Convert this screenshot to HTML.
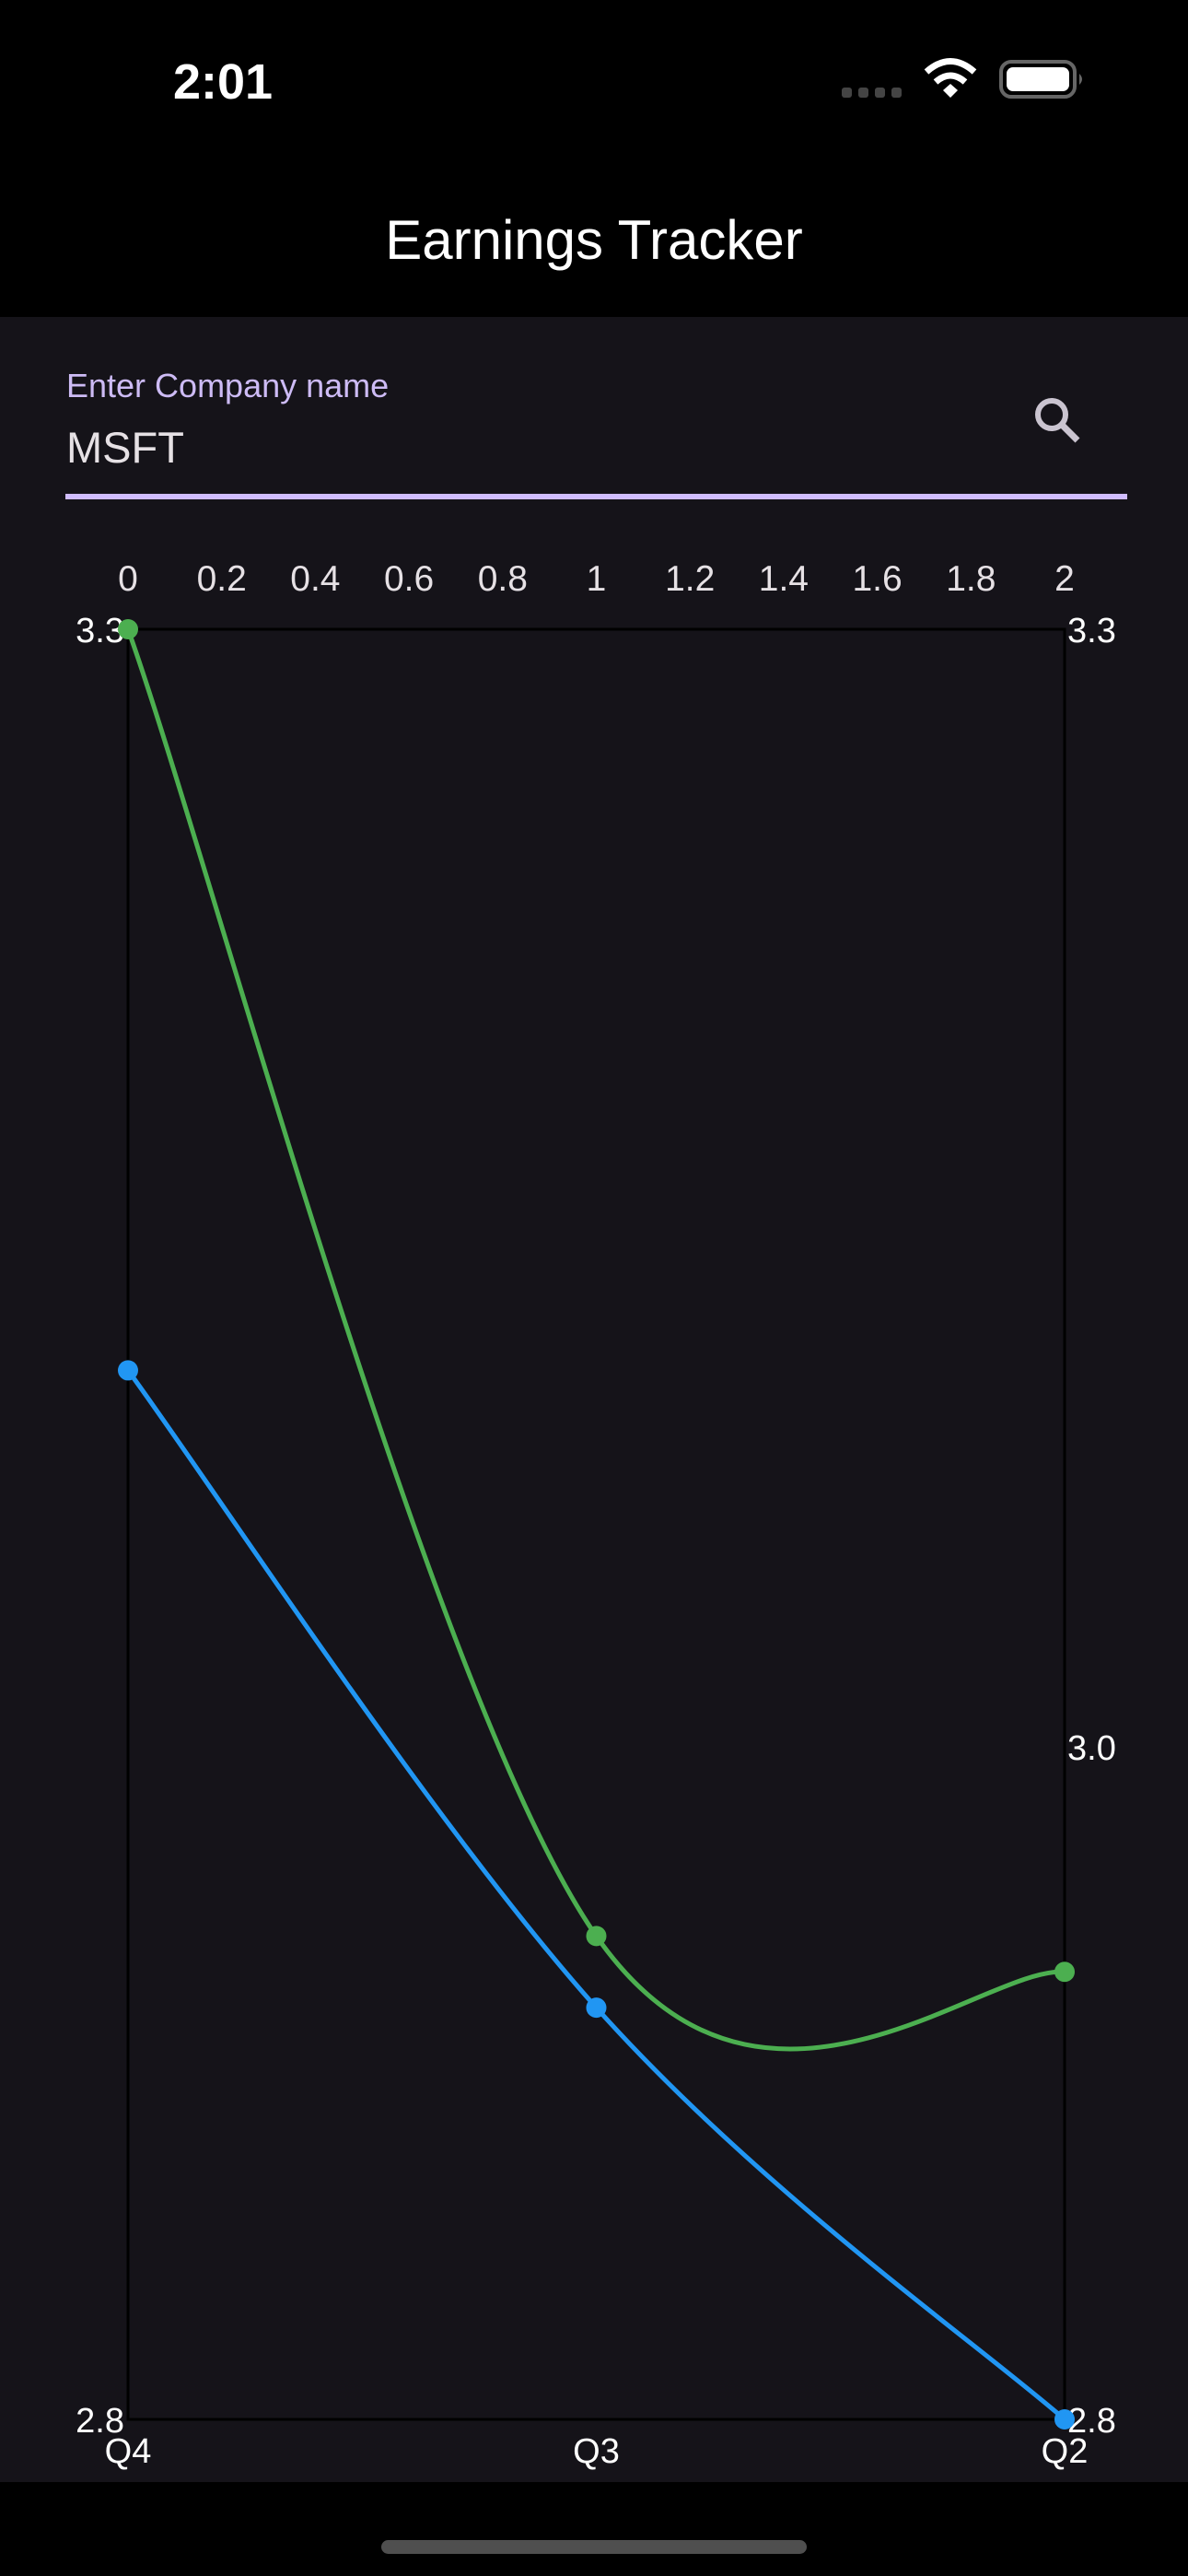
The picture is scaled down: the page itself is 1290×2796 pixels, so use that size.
<!DOCTYPE html>
<html><head><meta charset="utf-8"><style>
html,body{margin:0;padding:0;}
body{width:1290px;height:2796px;background:#000;position:relative;overflow:hidden;font-family:"Liberation Sans",sans-serif;}
.abs{position:absolute;}
</style></head><body>
<div class="abs" style="left:0;top:0;width:1290px;height:344px;background:#000;">
  <div class="abs" style="left:150px;top:58px;width:184px;text-align:center;color:#fff;font-size:54px;font-weight:bold;">2:01</div>
  <svg class="abs" style="left:900px;top:55px;" width="300" height="65">
    <g fill="#444"><rect x="14" y="40" width="11" height="11" rx="3"/><rect x="32" y="40" width="11" height="11" rx="3"/><rect x="50" y="40" width="11" height="11" rx="3"/><rect x="68" y="40" width="11" height="11" rx="3"/></g>
    <g fill="none" stroke="#fff" stroke-width="7"><path d="M106 23 Q132 0 158 23"/><path d="M116 34 Q132 20 148 34"/></g>
    <path d="M124 43 L132 36 L140 43 L132 51Z" fill="#fff"/>
    <rect x="187" y="12" width="80" height="38" rx="11" fill="none" stroke="#666" stroke-width="4"/>
    <rect x="193" y="18" width="68" height="26" rx="7" fill="#fff"/>
    <path d="M272 25 Q278 31 272 37Z" fill="#666"/>
  </svg>
  <div class="abs" style="left:0;top:226px;width:1290px;text-align:center;color:#fff;font-size:60px;">Earnings Tracker</div>
</div>
<div class="abs" style="left:0;top:344px;width:1290px;height:2350px;background:#151319;"></div>
<div class="abs" style="left:72px;top:398px;color:#cdbbf5;font-size:36px;">Enter Company name</div>
<div class="abs" style="left:72px;top:458px;color:#e6e1e5;font-size:47px;">MSFT</div>
<svg class="abs" style="left:1118px;top:426px;" width="66" height="66">
  <circle cx="24" cy="24" r="15" fill="none" stroke="#cac4d0" stroke-width="6"/>
  <line x1="35" y1="35" x2="52" y2="52" stroke="#cac4d0" stroke-width="7"/>
</svg>
<div class="abs" style="left:71px;top:536px;width:1153px;height:6px;background:#d0bcff;"></div>
<svg id="chart" class="abs" style="left:0;top:560px;" width="1290" height="2134"></svg>
<div class="abs" style="left:414px;top:2757px;width:462px;height:15px;border-radius:8px;background:#4f4f4f;"></div>
<script>
const topTicks=[0,0.2,0.4,0.6,0.8,1,1.2,1.4,1.6,1.8,2];
const categories=["Q4","Q3","Q2"];
const leftTicks=[3.3,2.8];
const rightTicks=[3.3,3.0,2.8];
const actualSeries=[3.3,2.935,2.925];
const estimateSeries=[3.093,2.915,2.8];
const yMin=2.8,yMax=3.3,xMax=2;
const OY=560,L=139,R=1156,T=683,B=2626;
const xs=v=>L+(R-L)*v/xMax;
const ys=v=>T+(B-T)*(yMax-v)/(yMax-yMin)-OY;
const svg=document.getElementById('chart');
const NS='http://www.w3.org/2000/svg';
function mk(tag,attrs){const e=document.createElementNS(NS,tag);for(const k in attrs)e.setAttribute(k,attrs[k]);svg.appendChild(e);return e;}
let e=mk('rect',{x:L,y:T-OY,width:R-L,height:B-T,fill:'none',stroke:'#000','stroke-width':3});


topTicks.forEach(t=>{const el=mk('text',{x:xs(t),y:641-OY,'text-anchor':'middle',fill:'#e6e1e5','font-size':39,'font-family':'Liberation Sans'});el.textContent=String(t);

});
leftTicks.forEach(t=>{const el=mk('text',{x:L-4,y:ys(t)+14,'text-anchor':'end',fill:'#fff','font-size':38,'font-family':'Liberation Sans'});el.textContent=t.toFixed(1);

});
rightTicks.forEach(t=>{let y=ys(t)+14;if(t===3.0)y+=47;const el=mk('text',{x:R+3,y:y,fill:'#fff','font-size':38,'font-family':'Liberation Sans'});el.textContent=t.toFixed(1);

});
categories.forEach((c,i)=>{const el=mk('text',{x:xs(i),y:2673-OY,'text-anchor':'middle',fill:'#fff','font-size':38,'font-family':'Liberation Sans'});el.textContent=c;

});
function curve(vals){const p=vals.map((v,i)=>[xs(i),ys(v)]);const s=0.35;let d=`M${p[0][0]},${p[0][1]}`;
for(let i=1;i<p.length;i++){const p0=p[i-2]||p[i-1],p1=p[i-1],p2=p[i],p3=p[i+1]||p[i];
const c1=[p1[0]+(p2[0]-p0[0])*s/2,p1[1]+(p2[1]-p0[1])*s/2];const c2=[p2[0]-(p3[0]-p1[0])*s/2,p2[1]-(p3[1]-p1[1])*s/2];
d+=` C${c1[0]},${c1[1]} ${c2[0]},${c2[1]} ${p2[0]},${p2[1]}`;}return{d,p};}
[[actualSeries,'#4caf50','actual-eps'],[estimateSeries,'#2196f3','estimated-eps']].forEach(([vals,col,name])=>{
const c=curve(vals);const path=mk('path',{d:c.d,fill:'none',stroke:col,'stroke-width':5});


c.p.forEach(pt=>{const dot=mk('circle',{cx:pt[0],cy:pt[1],r:11,fill:col});

});});
</script>
</body></html>
